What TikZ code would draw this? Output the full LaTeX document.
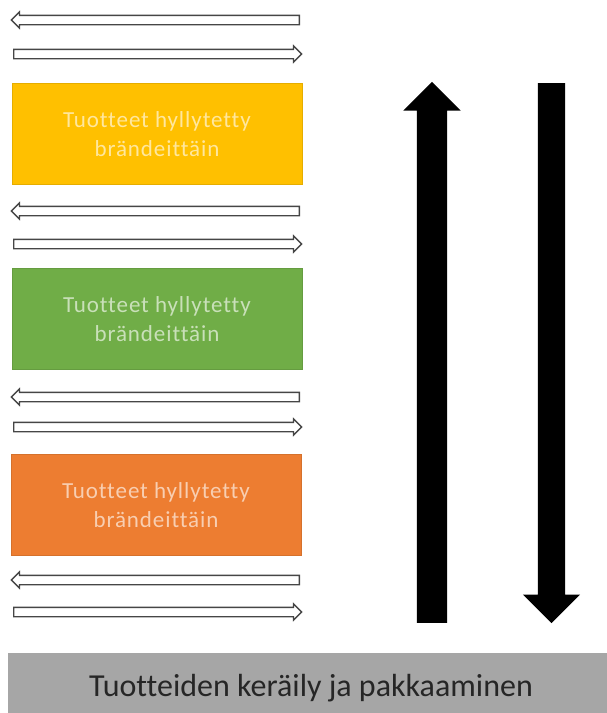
\documentclass[tikz,border=0pt]{standalone}
\usepackage{fontspec}
\setmainfont{Carlito}[Ligatures=NoCommon]
\usetikzlibrary{shapes.arrows}
\definecolor{shelfY}{RGB}{255,192,0}
\definecolor{shelfG}{RGB}{112,173,71}
\definecolor{shelfO}{RGB}{237,125,49}
\definecolor{packG}{RGB}{166,166,166}
\definecolor{edgeG}{RGB}{70,70,70}
\begin{document}
\begin{tikzpicture}[x=1pt,y=-1pt]
  \useasboundingbox (0,0) rectangle (606,713);
  \tikzset{shelf/.style={fill=#1,draw=#1!90!black,line width=0.5pt,minimum width=290pt,minimum height=101pt,align=center,font=\fontsize{23}{29}\selectfont\addfontfeature{LetterSpace=4},text=white!62!#1}}
  \tikzset{aisle/.style={single arrow,draw=edgeG,fill=white,line width=1.3pt,inner sep=4pt,minimum height=288pt,single arrow head extend=3.5pt,shape border rotate=#1,anchor=tail}}
  \tikzset{flow/.style={single arrow,fill=black,inner sep=#1,single arrow head extend=28.5pt-#1,anchor=tail}}
  % aisles between the shelves
  \foreach \a/\b [count=\i] in {20/54,211/244,397/427,580/612} {
    \node[aisle=180] (left\i) at (300,\a) {};
    \node[aisle=0] (right\i) at (13,\b) {};
  }
  \node[shelf=shelfY] (shelf1) at (157,134) {Tuotteet hyllytetty\\brändeittäin};
  \node[shelf=shelfG] (shelf2) at (157,319) {Tuotteet hyllytetty\\brändeittäin};
  \node[shelf=shelfO] (shelf3) at (156,505) {Tuotteet hyllytetty\\brändeittäin};
  \node[flow=15pt,minimum height=541pt,shape border rotate=90] (up) at (432,623) {};
  \node[flow=13.5pt,minimum height=540pt,shape border rotate=270] (down) at (551.5,83) {};
  \node[fill=packG,minimum width=606pt,minimum height=70pt,font=\fontsize{32}{36}\selectfont,text=black!85] (pack) at (311,688) {Tuotteiden keräily ja pakkaaminen};
\end{tikzpicture}
\end{document}
